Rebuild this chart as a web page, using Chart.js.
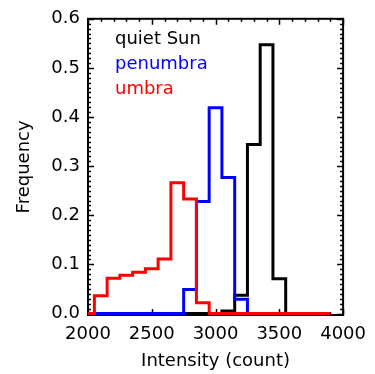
<!DOCTYPE html>
<html>
<head>
<meta charset="utf-8">
<script src="https://cdn.jsdelivr.net/npm/chart.js@4"></script>
<style>
  html, body { margin: 0; padding: 0; background: #ffffff; }
  #box { width: 375px; height: 374px; position: relative; }
</style>
</head>
<body>
<div id="box"><canvas id="histo"></canvas></div>
<script>
// bin centres of the intensity histogram (count)
const binCenters = [2000, 2100, 2200, 2300, 2400, 2500, 2600, 2700, 2800, 2900,
                    3000, 3100, 3200, 3300, 3400, 3500, 3600, 3700, 3800, 3900];

const quietSun = [0, 0, 0, 0, 0, 0, 0, 0, 0, 0,
                  0, 0.005, 0.037, 0.344, 0.547, 0.071, 0, 0, 0, 0];
const penumbra = [0, 0, 0, 0, 0, 0, 0, 0, 0.049, 0.228,
                  0.419, 0.277, 0.029, 0, 0, 0, 0, 0, 0, 0];
const umbra = [0, 0.036, 0.072, 0.078, 0.084, 0.091, 0.111, 0.266, 0.233, 0.022,
               0, 0, 0, 0, 0, 0, 0, 0, 0, 0];

const seriesNames = ["quiet Sun", "penumbra", "umbra"];
const seriesColors = ["#000000", "#0000ff", "#ff0000"];

const xTicks = [2000, 2500, 3000, 3500, 4000];
const yTicks = [0.0, 0.1, 0.2, 0.3, 0.4, 0.5, 0.6];
const xMinorStep = 100;
const yMinorStep = 0.01;

const FONT = "'DejaVu Sans', sans-serif";

function toPoints(vals) {
    return binCenters.map(function (c, i) { return { x: c, y: vals[i] }; });
}

function stepSet(name, vals, color, order) {
    return {
        label: name,
        data: toPoints(vals),
        borderColor: color,
        borderWidth: 3,
        stepped: 'middle',
        pointRadius: 0,
        fill: false,
        order: order
    };
}

// frame with inward ticks on the four sides, like the IDL plot
const framePlugin = {
    id: 'frame',
    beforeDatasetsDraw: function (chart) {
        const ctx = chart.ctx;
        const a = chart.chartArea;
        const xs = chart.scales.x;
        const ys = chart.scales.y;
        ctx.save();
        ctx.strokeStyle = '#000';
        ctx.lineWidth = 1.5;
        var v, px, len;
        for (v = xs.min; v <= xs.max + 1e-6; v += xMinorStep) {
            px = Math.round(xs.getPixelForValue(v)) + 0.5;
            len = (xTicks.indexOf(Math.round(v)) >= 0) ? 6 : 3;
            ctx.beginPath();
            ctx.moveTo(px, a.bottom); ctx.lineTo(px, a.bottom - len);
            ctx.moveTo(px, a.top); ctx.lineTo(px, a.top + len);
            ctx.stroke();
        }
        for (var k = 0; k * yMinorStep <= 0.6 + 1e-9; k++) {
            v = k * yMinorStep;
            px = Math.round(ys.getPixelForValue(v)) + 0.5;
            len = (k % 10 === 0) ? 6 : 3;
            ctx.beginPath();
            ctx.moveTo(a.left, px); ctx.lineTo(a.left + len, px);
            ctx.moveTo(a.right, px); ctx.lineTo(a.right - len, px);
            ctx.stroke();
        }
        ctx.lineWidth = 2;
        ctx.strokeRect(a.left, a.top, a.right - a.left, a.bottom - a.top);
        ctx.restore();
    },
    afterDraw: function (chart) {
        const ctx = chart.ctx;
        const a = chart.chartArea;
        ctx.save();
        ctx.font = '18px ' + FONT;
        ctx.textAlign = 'left';
        ctx.textBaseline = 'alphabetic';
        for (var i = 0; i < seriesNames.length; i++) {
            ctx.fillStyle = seriesColors[i];
            ctx.fillText(seriesNames[i], a.left + 27, a.top + 25 + i * 25);
        }
        ctx.restore();
    }
};

new Chart(document.getElementById('histo'), {
    type: 'line',
    data: {
        datasets: [
            stepSet(seriesNames[0], quietSun, seriesColors[0], 3),
            stepSet(seriesNames[1], penumbra, seriesColors[1], 2),
            stepSet(seriesNames[2], umbra, seriesColors[2], 1)
        ]
    },
    options: {
        responsive: true,
        maintainAspectRatio: false,
        animation: false,
        events: [],
        layout: {
            padding: { top: 14, right: 28, left: 0, bottom: 0 }
        },
        elements: { line: { tension: 0, borderJoinStyle: 'miter' } },
        scales: {
            x: {
                type: 'linear',
                min: 2000,
                max: 4000,
                afterBuildTicks: function (s) {
                    s.ticks = xTicks.map(function (v) { return { value: v }; });
                },
                afterFit: function (s) { s.height = 59; },
                grid: { display: false, drawTicks: false },
                border: { display: false },
                ticks: {
                    color: '#000',
                    font: { family: FONT, size: 18 },
                    padding: 9,
                    maxRotation: 0,
                    callback: function (v) { return String(v); }
                },
                title: {
                    display: true,
                    text: 'Intensity (count)',
                    color: '#000',
                    font: { family: FONT, size: 18 },
                    padding: { top: 0, bottom: 2 }
                }
            },
            y: {
                type: 'linear',
                min: -0.003,
                max: 0.6,
                afterBuildTicks: function (s) {
                    s.ticks = yTicks.map(function (v) { return { value: v }; });
                },
                afterFit: function (s) { s.width = 88; },
                grid: { display: false, drawTicks: false },
                border: { display: false },
                ticks: {
                    color: '#000',
                    font: { family: FONT, size: 18 },
                    padding: 8,
                    callback: function (v) { return Number(v).toFixed(1); }
                },
                title: {
                    display: true,
                    text: 'Frequency',
                    color: '#000',
                    font: { family: FONT, size: 18 },
                    padding: { top: 14, bottom: 0 }
                }
            }
        },
        plugins: {
            legend: { display: false },
            tooltip: { enabled: false }
        }
    },
    plugins: [framePlugin]
});
</script>
</body>
</html>
